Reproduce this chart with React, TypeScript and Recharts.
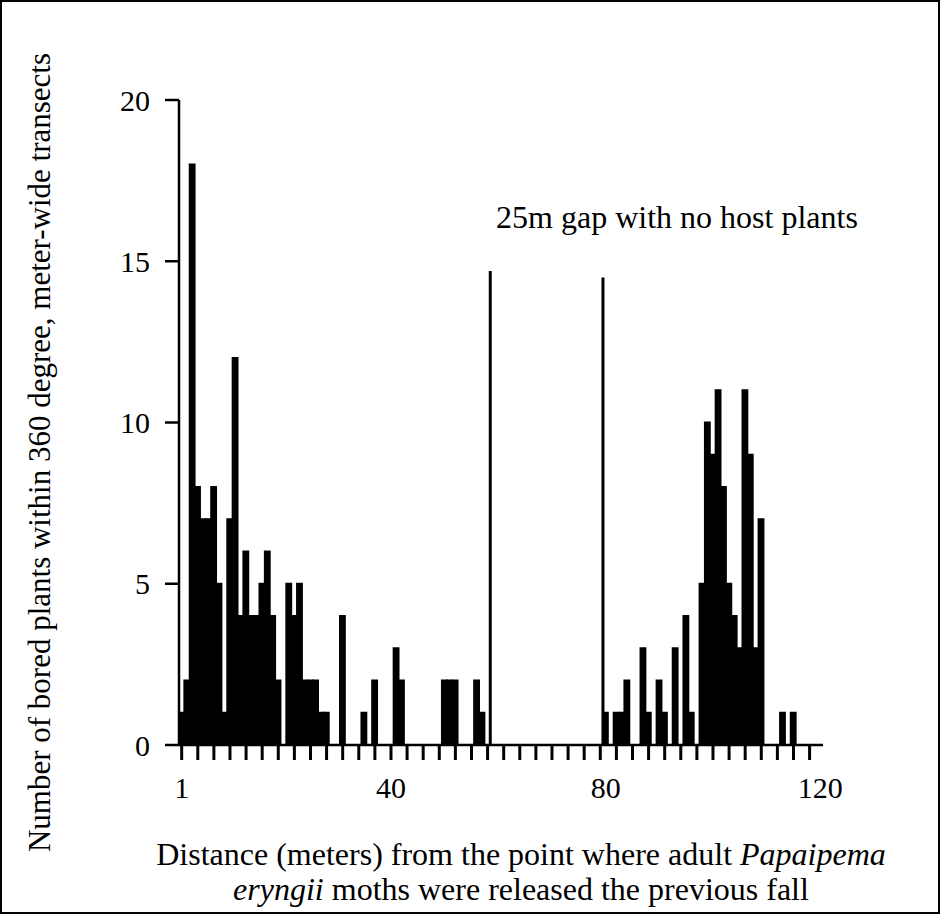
import React from 'react';
import { BarChart, Bar, XAxis, YAxis, ReferenceLine } from 'recharts';

// bored plants per 1 m distance bin, bins 1..120
const counts = [
  1, 2, 18, 8, 7, 7, 8, 5, 1, 7,
  12, 4, 6, 4, 4, 5, 6, 4, 2, 0,
  5, 4, 5, 2, 2, 2, 1, 1, 0, 0,
  4, 0, 0, 0, 1, 0, 2, 0, 0, 0,
  3, 2, 0, 0, 0, 0, 0, 0, 0, 2,
  2, 2, 0, 0, 0, 2, 1, 0, 0, 0,
  0, 0, 0, 0, 0, 0, 0, 0, 0, 0,
  0, 0, 0, 0, 0, 0, 0, 0, 0, 1,
  0, 1, 1, 2, 0, 0, 3, 1, 0, 2,
  1, 0, 3, 0, 4, 1, 0, 5, 10, 9,
  11, 8, 5, 4, 3, 11, 9, 3, 7, 0,
  0, 0, 1, 0, 1, 0, 0, 0, 0, 0,
];
const distances = counts.map((_, i) => i + 1);

const yTicks = [0, 5, 10, 15, 20];
const minorTicks = [
  1, 4, 7, 10, 13, 16, 19, 22, 25, 28, 31, 34, 37, 40, 43, 46, 49, 52, 55, 58,
  61, 64, 67, 70, 73, 76, 79, 82, 85, 88, 91, 94, 97, 100, 103, 106, 109, 112, 115, 118,
];
const labelTicks = [1, 40, 80, 120];

// the two lines bounding the gap: [distance, height]
const gapLines = [
  [58.5, 14.7],
  [79.5, 14.5],
];

const data = distances.map((d, i) => ({ distance: d, count: counts[i] }));

const FONT = '"Liberation Serif", "Times New Roman", serif';

const XTick = (props: any) => {
  const { x, y, payload } = props;
  const v = payload.value;
  return (
    <g>
      {minorTicks.includes(v) && (
        <line x1={x} x2={x} y1={y} y2={y + 15} stroke="#000" strokeWidth={3} />
      )}
      {labelTicks.includes(v) && (
        <text x={x} y={y + 53} textAnchor="middle" fontSize={30} fontFamily={FONT} fill="#000">
          {v}
        </text>
      )}
    </g>
  );
};

export default function App() {
  return (
    <div
      style={{
        position: 'absolute',
        left: 0,
        top: 0,
        width: 940,
        height: 914,
        background: '#fff',
        border: '2px solid #000',
        boxSizing: 'border-box',
        fontFamily: FONT,
        overflow: 'hidden',
      }}
    >
      <div style={{ position: 'absolute', left: -2, top: -2 }}>
        <BarChart
          width={940}
          height={914}
          data={data}
          margin={{ top: 100, right: 117, bottom: 109, left: 109 }}
          barCategoryGap={0}
          barGap={0}
        >
          <XAxis
            dataKey="distance"
            type="number"
            domain={[0.5, 120.5]}
            ticks={[...minorTicks, 80, 120]}
            interval={0}
            height={60}
            tickLine={false}
            tickSize={0}
            tickMargin={0}
            axisLine={{ stroke: '#000', strokeWidth: 2.5 }}
            tick={<XTick />}
            allowDataOverflow
          />
          <YAxis
            type="number"
            domain={[0, 20]}
            ticks={yTicks}
            interval={0}
            width={70}
            tickSize={14}
            tickMargin={15}
            axisLine={{ stroke: '#000', strokeWidth: 2.5 }}
            tickLine={{ stroke: '#000', strokeWidth: 2.5 }}
            tick={{ fill: '#000', fontSize: 30, fontFamily: FONT }}
          />
          <Bar
            dataKey="count"
            fill="#000"
            stroke="#000"
            strokeWidth={2}
            barSize={644 / 120}
            isAnimationActive={false}
          />
          {gapLines.map(([x, h], i) => (
            <ReferenceLine
              key={i}
              segment={[
                { x, y: 0 },
                { x, y: h },
              ]}
              stroke="#000"
              strokeWidth={3}
            />
          ))}
        </BarChart>
      </div>

      <div
        style={{
          position: 'absolute',
          left: 427 - 2,
          top: 200 - 2,
          width: 500,
          textAlign: 'center',
          fontSize: 32,
          lineHeight: '35px',
          whiteSpace: 'nowrap',
        }}
      >
        25m gap with no host plants
      </div>

      <div
        style={{
          position: 'absolute',
          left: -411 - 2,
          top: 434.5 - 2,
          width: 900,
          height: 35,
          textAlign: 'center',
          fontSize: 31,
          lineHeight: '35px',
          whiteSpace: 'nowrap',
          transform: 'rotate(-90deg)',
        }}
      >
        Number of bored plants within 360 degree, meter-wide transects
      </div>

      <div
        style={{
          position: 'absolute',
          left: 121 - 2,
          top: 837 - 2,
          width: 800,
          textAlign: 'center',
          fontSize: 32,
          lineHeight: '35px',
          whiteSpace: 'nowrap',
        }}
      >
        <div>
          Distance (meters) from the point where adult <i>Papaipema</i>
        </div>
        <div>
          <i>eryngii</i> moths were released the previous fall
        </div>
      </div>
    </div>
  );
}
